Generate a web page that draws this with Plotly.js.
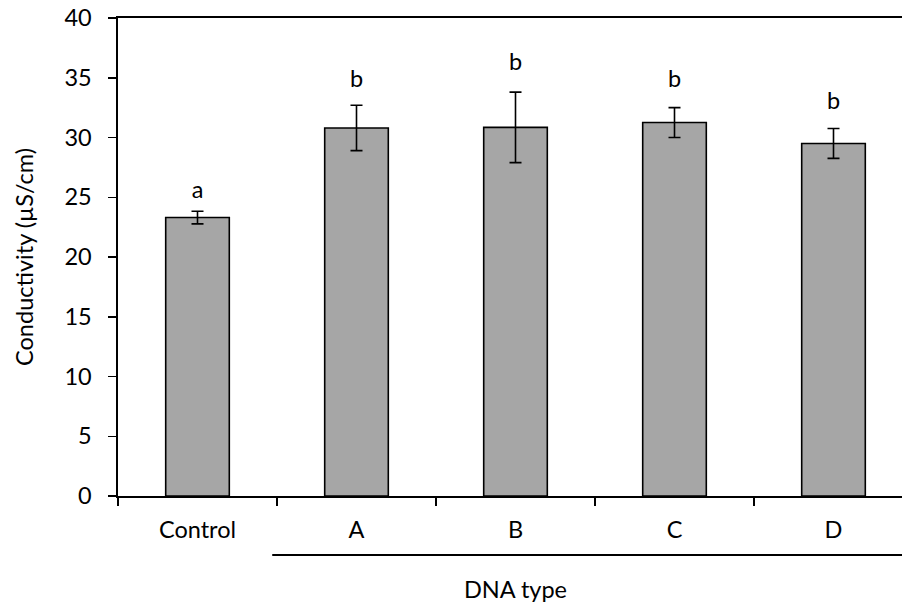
<!DOCTYPE html>
<html>
<head>
<meta charset="utf-8">
<script src="https://cdn.plot.ly/plotly-3.0.1.min.js"></script>
<style>
  html, body { margin: 0; padding: 0; overflow: hidden; background: #fff; }
  #chart { width: 920px; height: 614px; }
</style>
</head>
<body>
<div id="chart"></div>
<script>
// ---- data ----
const categories = ["Control", "A", "B", "C", "D"];
const conductivity = [23.3, 30.8, 30.85, 31.25, 29.5];
const errors = [0.53, 1.9, 2.95, 1.25, 1.25];
const letters = ["a", "b", "b", "b", "b"];
const letterHeights = [25.4, 34.7, 36.1, 34.7, 32.9];
const yTicks = [0, 5, 10, 15, 20, 25, 30, 35, 40];

const FONT = "Lato, 'Open Sans', sans-serif";
const FS = 23.5;

const bars = {
  type: "bar",
  x: categories,
  y: conductivity,
  width: 0.4,
  marker: { color: "#a6a6a6", line: { color: "#000", width: 1.6 } },
  error_y: { type: "data", array: errors, visible: true, color: "#000", thickness: 1.6, width: 6 },
  hoverinfo: "x+y",
  showlegend: false
};

const letterTrace = {
  type: "scatter",
  mode: "text",
  x: categories,
  y: letterHeights,
  text: letters,
  textposition: "middle center",
  textfont: { family: FONT, size: FS, color: "#000" },
  hoverinfo: "skip",
  showlegend: false
};

const layout = {
  width: 920,
  height: 614,
  margin: { l: 118, r: 7, t: 18, b: 118 },
  paper_bgcolor: "#fff",
  plot_bgcolor: "#fff",
  font: { family: FONT, size: FS, color: "#000" },
  xaxis: {
    type: "category",
    range: [-0.5, 4.5],
    tickson: "boundaries",
    ticks: "outside",
    ticklen: 8,
    tickwidth: 1.5,
    tickcolor: "#000",
    showline: true,
    linecolor: "#000",
    linewidth: 1.6,
    mirror: true,
    showgrid: false,
    zeroline: false,
    ticklabelstandoff: 12,
    title: { text: "DNA type", standoff: 40, font: { family: FONT, size: FS, color: "#000" } },
    automargin: false
  },
  yaxis: {
    range: [0, 40],
    tickvals: yTicks,
    ticktext: yTicks.map(String),
    ticks: "outside",
    ticklen: 8,
    tickwidth: 1.5,
    tickcolor: "#000",
    showline: true,
    linecolor: "#000",
    linewidth: 1.6,
    mirror: false,
    showgrid: false,
    zeroline: false,
    ticklabelstandoff: 12,
    title: { text: "Conductivity (µS/cm)", standoff: 24, font: { family: FONT, size: FS, color: "#000" } },
    automargin: false
  },
  shapes: [{
    type: "line",
    xref: "x",
    yref: "paper",
    x0: 0.47, x1: 4.6,
    y0: -0.1234, y1: -0.1234,
    line: { color: "#000", width: 2 }
  }]
};

Plotly.newPlot("chart", [bars, letterTrace], layout, { displayModeBar: false, staticPlot: true });
</script>
</body>
</html>
